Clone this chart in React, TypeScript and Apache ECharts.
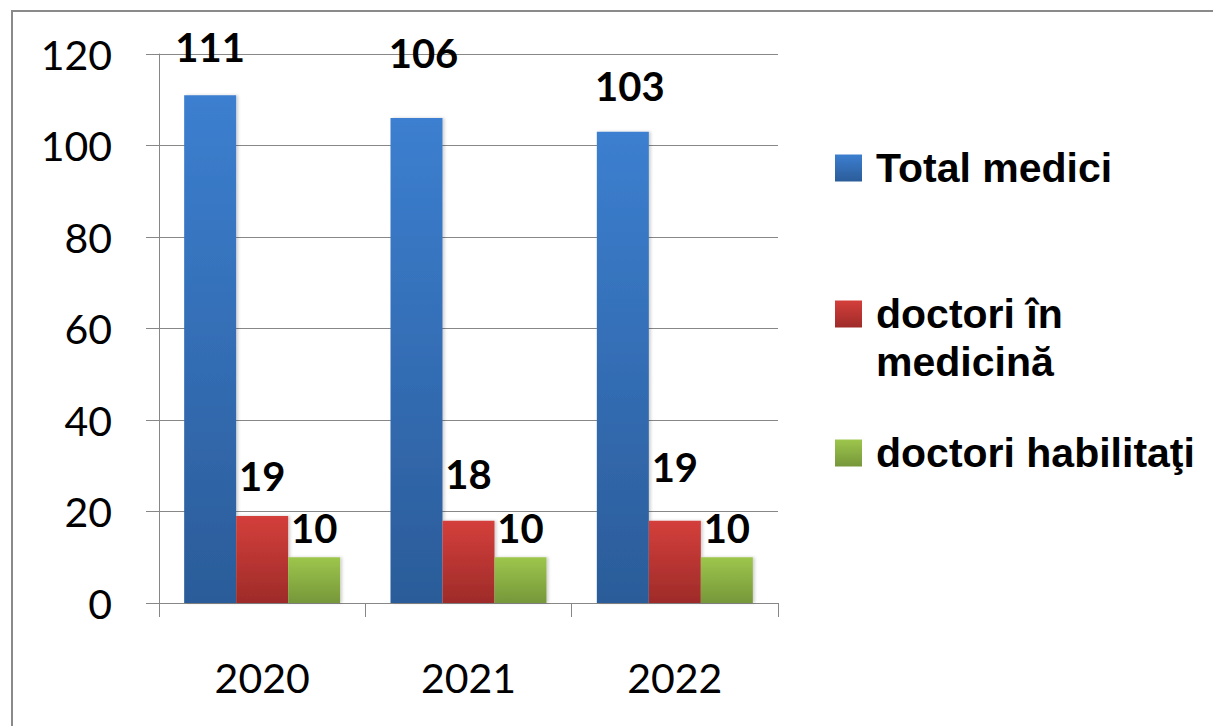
import React, { useEffect, useRef } from "react";
import * as echarts from "echarts";

const categories = ["2020", "2021", "2022"];
const seriesNames = ["Total medici", "doctori în medicină", "doctori habilitaţi"];
const totalMedici = [111, 106, 103];
const doctoriMedicina = [19, 18, 18];
const doctoriHabilitati = [10, 10, 10];
const totalLabels = ["111", "106", "103"];
const medicinaLabels = ["19", "18", "19"];
const habilitatiLabels = ["10", "10", "10"];
const yTicks = { min: 0, max: 120, interval: 20 };

// label centre offsets relative to each bar top (as placed in the original)
const totalOffsets = [[0, -48], [7, -65], [7, -46]];
const medicinaOffsets = [[0, -40], [0, -47], [0, -54]];
const habilitatiOffsets = [[0, -29], [0, -29], [0, -29]];

const grad = (top: string, bottom: string) =>
  new echarts.graphic.LinearGradient(0, 0, 0, 1, [
    { offset: 0, color: top },
    { offset: 1, color: bottom },
  ]);

const LABEL_FONT = "Lato";
const LEGEND_FONT = "Liberation Sans";

export default function App() {
  const ref = useRef<HTMLDivElement>(null);

  useEffect(() => {
    if (!ref.current) return;
    const chart = echarts.init(ref.current, null, { renderer: "svg" });

    const mkSeries = (
      name: string,
      values: number[],
      labels: string[],
      offsets: number[][],
      top: string,
      bottom: string
    ) => ({
      type: "bar",
      name,
      barWidth: 52,
      barGap: "0%",
      itemStyle: {
        color: grad(top, bottom),
        shadowColor: "rgba(0,0,0,0.18)",
        shadowBlur: 3,
        shadowOffsetX: 2,
        shadowOffsetY: 0,
      },
      label: {
        show: true,
        position: "top",
        distance: 0,
        verticalAlign: "middle",
        fontFamily: LABEL_FONT,
        fontWeight: "bold",
        fontSize: 40,
        color: "#000",
        formatter: (p: any) => labels[p.dataIndex],
      },
      data: values.map((v, i) => ({ value: v, label: { offset: offsets[i] } })),
    });

    const legendBase = {
      orient: "vertical",
      left: 835,
      padding: 0,
      itemWidth: 27,
      itemHeight: 27,
      icon: "rect",
      selectedMode: false,
      textStyle: {
        fontFamily: LEGEND_FONT,
        fontWeight: "bold",
        fontSize: 41,
        lineHeight: 48,
        color: "#000",
      },
    };

    chart.setOption({
      animation: false,
      backgroundColor: "#fff",
      grid: { left: 159, right: 435, top: 54, bottom: 123, containLabel: false },
      legend: [
        {
          ...legendBase,
          top: 144,
          data: [{ name: seriesNames[0], textStyle: { padding: [0, 0, 0, 9] } }],
        },
        {
          ...legendBase,
          top: 242,
          formatter: () => " \ndoctori în\nmedicină",
          data: [{ name: seriesNames[1], textStyle: { padding: [0, 0, 0, 9] } }],
        },
        {
          ...legendBase,
          top: 429,
          data: [{ name: seriesNames[2], textStyle: { padding: [0, 0, 0, 9] } }],
        },
      ],
      xAxis: {
        type: "category",
        data: categories,
        axisLine: { show: true, lineStyle: { color: "#878787", width: 1 } },
        axisTick: { show: true, length: 14, lineStyle: { color: "#878787" } },
        axisLabel: {
          margin: 54,
          fontFamily: LABEL_FONT,
          fontSize: 41,
          color: "#000",
        },
      },
      yAxis: {
        type: "value",
        min: yTicks.min,
        max: yTicks.max,
        interval: yTicks.interval,
        axisLine: { show: true, lineStyle: { color: "#878787", width: 1 } },
        axisTick: { show: true, length: 13, lineStyle: { color: "#878787" } },
        splitLine: { show: true, lineStyle: { color: "#878787", width: 1 } },
        axisLabel: {
          margin: 47,
          fontFamily: LABEL_FONT,
          fontSize: 41,
          color: "#000",
        },
      },
      graphic: [
        {
          type: "rect",
          silent: true,
          shape: { x: 12, y: 11, width: 1400, height: 900 },
          style: { fill: "none", stroke: "#8a8a8a", lineWidth: 2 },
        },
      ],
      series: [
        mkSeries(seriesNames[0], totalMedici, totalLabels, totalOffsets, "#3c7fd0", "#2b5c99"),
        mkSeries(seriesNames[1], doctoriMedicina, medicinaLabels, medicinaOffsets, "#d43f3b", "#9e2b29"),
        mkSeries(seriesNames[2], doctoriHabilitati, habilitatiLabels, habilitatiOffsets, "#9dc64c", "#76973a"),
      ],
    });

    return () => chart.dispose();
  }, []);

  return (
    <div
      ref={ref}
      style={{ position: "fixed", left: 0, top: 0, width: 1213, height: 726 }}
    />
  );
}
